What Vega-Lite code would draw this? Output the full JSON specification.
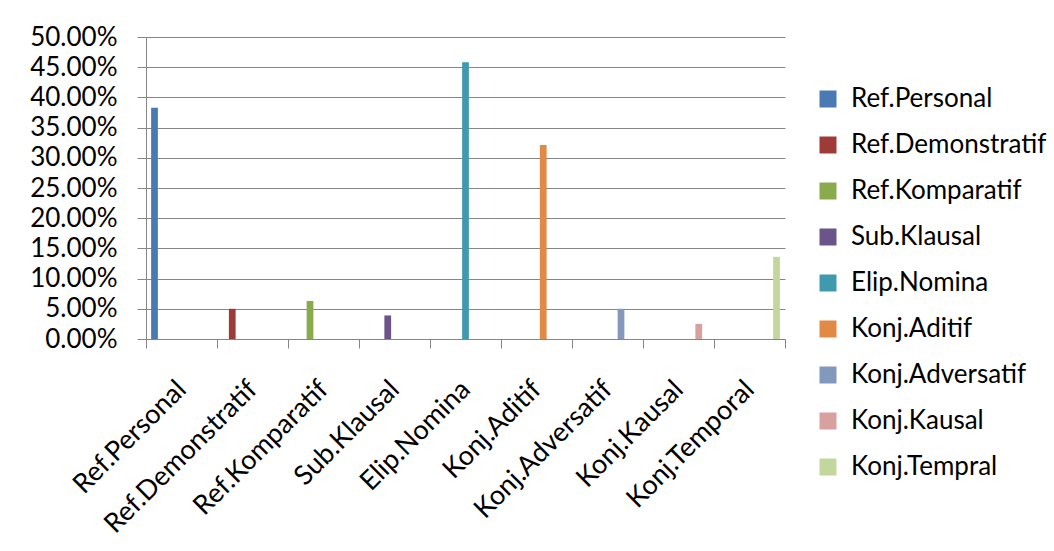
{
  "$schema": "https://vega.github.io/schema/vega-lite/v6.json",
  "autosize": {"type": "none"},
  "padding": {"left": 146, "top": 37, "right": 269, "bottom": 212},
  "width": 639,
  "height": 302,
  "background": "white",
  "data": {
    "values": [
      {"category": "Ref.Personal", "series": "Ref.Personal", "value": 0.383},
      {"category": "Ref.Demonstratif", "series": "Ref.Demonstratif", "value": 0.050},
      {"category": "Ref.Komparatif", "series": "Ref.Komparatif", "value": 0.063},
      {"category": "Sub.Klausal", "series": "Sub.Klausal", "value": 0.039},
      {"category": "Elip.Nomina", "series": "Elip.Nomina", "value": 0.458},
      {"category": "Konj.Aditif", "series": "Konj.Aditif", "value": 0.321},
      {"category": "Konj.Adversatif", "series": "Konj.Adversatif", "value": 0.050},
      {"category": "Konj.Kausal", "series": "Konj.Kausal", "value": 0.025},
      {"category": "Konj.Temporal", "series": "Konj.Tempral", "value": 0.136}
    ]
  },
  "mark": {"type": "bar"},
  "encoding": {
    "x": {
      "field": "category",
      "type": "nominal",
      "sort": null,
      "scale": {
        "domain": ["Ref.Personal", "Ref.Demonstratif", "Ref.Komparatif", "Sub.Klausal", "Elip.Nomina", "Konj.Aditif", "Konj.Adversatif", "Konj.Kausal", "Konj.Temporal"],
        "paddingInner": 0,
        "paddingOuter": 0
      },
      "axis": {
        "title": null,
        "tickBand": "extent",
        "labelAngle": -45,
        "labelAlign": "right",
        "labelBaseline": "middle",
        "labelPadding": 37,
        "labelFont": "Lato",
        "labelFontSize": 27,
        "labelColor": "#000000",
        "labelOverlap": false,
        "labelBound": false,
        "labelFlush": false,
        "labelLimit": 0,
        "tickSize": 9,
        "tickColor": "#868686",
        "domainColor": "#868686",
        "grid": false
      }
    },
    "xOffset": {
      "field": "series",
      "type": "nominal",
      "scale": {
        "domain": ["Ref.Personal", "Ref.Demonstratif", "Ref.Komparatif", "Sub.Klausal", "Elip.Nomina", "Konj.Aditif", "Konj.Adversatif", "Konj.Kausal", "Konj.Tempral"],
        "paddingInner": 0,
        "paddingOuter": 0.76
      }
    },
    "y": {
      "field": "value",
      "type": "quantitative",
      "scale": {"domain": [0, 0.5], "nice": false},
      "axis": {
        "title": null,
        "values": [0, 0.05, 0.1, 0.15, 0.2, 0.25, 0.3, 0.35, 0.4, 0.45, 0.5],
        "format": ".2%",
        "labelFont": "Lato",
        "labelFontSize": 26,
        "labelColor": "#000000",
        "labelPadding": 20,
        "tickSize": 9,
        "tickColor": "#868686",
        "domainColor": "#868686",
        "gridColor": "#868686",
        "gridOpacity": 1,
        "labelFlush": false,
        "labelOverlap": false
      }
    },
    "color": {
      "field": "series",
      "type": "nominal",
      "scale": {
        "domain": ["Ref.Personal", "Ref.Demonstratif", "Ref.Komparatif", "Sub.Klausal", "Elip.Nomina", "Konj.Aditif", "Konj.Adversatif", "Konj.Kausal", "Konj.Tempral"],
        "range": ["#4A7AB4", "#9E3B38", "#8AAA4E", "#6B5489", "#3F99AF", "#E08A46", "#8497BD", "#D9A0A0", "#C3D69B"]
      },
      "legend": {
        "title": null,
        "orient": "none",
        "legendX": 669,
        "legendY": 49,
        "padding": 0,
        "symbolType": "square",
        "symbolSize": 289,
        "symbolStrokeWidth": 0,
        "symbolOpacity": 1,
        "labelFont": "Lato",
        "labelFontSize": 26,
        "labelColor": "#000000",
        "labelOffset": 10,
        "labelLimit": 0,
        "rowPadding": 20
      }
    }
  },
  "config": {
    "view": {"stroke": null},
    "axis": {"domainWidth": 1, "tickWidth": 1, "gridWidth": 1}
  }
}
